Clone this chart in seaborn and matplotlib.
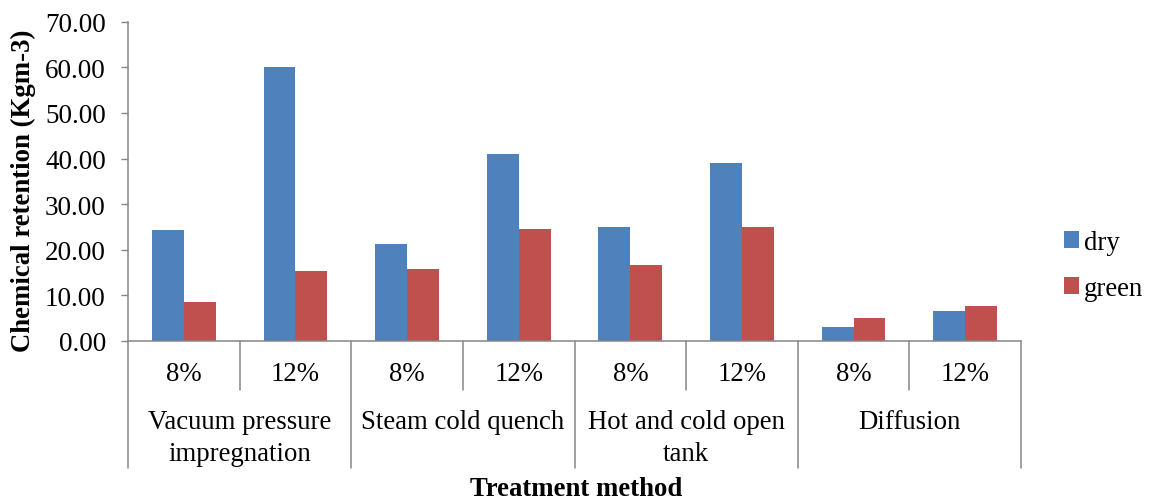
import numpy as np
import pandas as pd
import matplotlib
matplotlib.use("Agg")
import matplotlib.pyplot as plt
import seaborn as sns
from matplotlib.transforms import blended_transform_factory
from matplotlib.patches import Patch

# ---- data ----
methods = ["Vacuum pressure\nimpregnation", "Steam cold quench",
           "Hot and cold open\ntank", "Diffusion"]
concentrations = ["8%", "12%"]
series = ["dry", "green"]
dry = [24.3, 60.1, 21.2, 40.9, 25.0, 39.1, 3.0, 6.6]
green = [8.5, 15.3, 15.7, 24.5, 16.6, 25.0, 5.0, 7.6]
y_ticks = [0, 10, 20, 30, 40, 50, 60, 70]
colors = ["#4F81BD", "#C0504D"]

cats = [f"{m}|{c}" for m in methods for c in concentrations]
df = pd.DataFrame({
    "cat": cats * 2,
    "series": [series[0]] * len(cats) + [series[1]] * len(cats),
    "value": dry + green,
})

sns.set_theme(style="white")
plt.rcParams["font.family"] = ["Liberation Serif", "DejaVu Serif"]
plt.rcParams["text.color"] = "black"
plt.rcParams["axes.labelcolor"] = "black"
plt.rcParams["ytick.labelcolor"] = "black"
plt.rcParams["xtick.labelcolor"] = "black"
gray = "#868686"
fs = 19.3
fs_tick = 19.5

fig = plt.figure(figsize=(11.51, 5.02), dpi=100)
ax = fig.add_axes([128 / 1151, 1 - 342 / 502, (1021 - 128) / 1151, (342 - 22.7) / 502])

sns.barplot(data=df, x="cat", y="value", hue="series", order=cats,
            hue_order=series, palette=colors, saturation=1, width=0.57,
            ax=ax, legend=False, linewidth=0, edgecolor="none")

ax.set_ylim(0, 70)
ax.set_xlim(-0.5, len(cats) - 0.5)
ax.set_yticks(y_ticks)
ax.set_yticklabels([f"{v:.2f}" for v in y_ticks], fontsize=fs_tick, color="black")
ax.set_xticks([])
ax.set_xlabel("")
ax.tick_params(axis="y", direction="out", length=5, width=1, color=gray,
               pad=11, left=True, labelcolor="black")
for s in ["top", "right"]:
    ax.spines[s].set_visible(False)
for s in ["left", "bottom"]:
    ax.spines[s].set_color(gray)
    ax.spines[s].set_linewidth(1.1)

ax.set_ylabel("Chemical retention (Kgm-3)", fontsize=19.3, fontweight="bold",
              color="black")
ax.yaxis.label.set_verticalalignment("center")
ax.yaxis.set_label_coords(-(128 - 23) / 893, 0.473)

# multi-level category axis
trans = blended_transform_factory(ax.transData, ax.transAxes)
axh = 342 - 22.7
short_y = -(391 - 342) / axh
long_y = -(469 - 342) / axh
for i in range(len(cats) + 1):
    b = i - 0.5
    y_end = long_y if i % 2 == 0 else short_y
    ax.plot([b, b], [0, y_end], transform=trans, clip_on=False,
            color=gray, lw=1.1)

sub_y = -(375 - 342) / axh
for i, c in enumerate(cats):
    ax.text(i, sub_y, c.split("|")[1], transform=trans, ha="center",
            va="center", fontsize=fs, color="black")

line_ys = [-(423 - 342) / axh, -(455 - 342) / axh]
for g, m in enumerate(methods):
    xc = 2 * g + 0.5
    for k, line in enumerate(m.split("\n")):
        ax.text(xc, line_ys[k], line, transform=trans, ha="center",
                va="center", fontsize=fs, color="black")

fig.text(576 / 1151, 1 - 490 / 502, "Treatment method", ha="center",
         va="center", fontsize=19.3, fontweight="bold", color="black")

handles = [Patch(facecolor=c, edgecolor="none") for c in colors]
leg = fig.legend(handles, series, loc="center left",
                 bbox_to_anchor=(1064 / 1151, 1 - 266.5 / 502), frameon=False,
                 fontsize=fs, handlelength=0.55, handleheight=0.55,
                 handletextpad=0.18, labelspacing=0.78, borderpad=0,
                 borderaxespad=0)
for t in leg.get_texts():
    t.set_color("black")

fig.savefig("out.png", dpi=100)
